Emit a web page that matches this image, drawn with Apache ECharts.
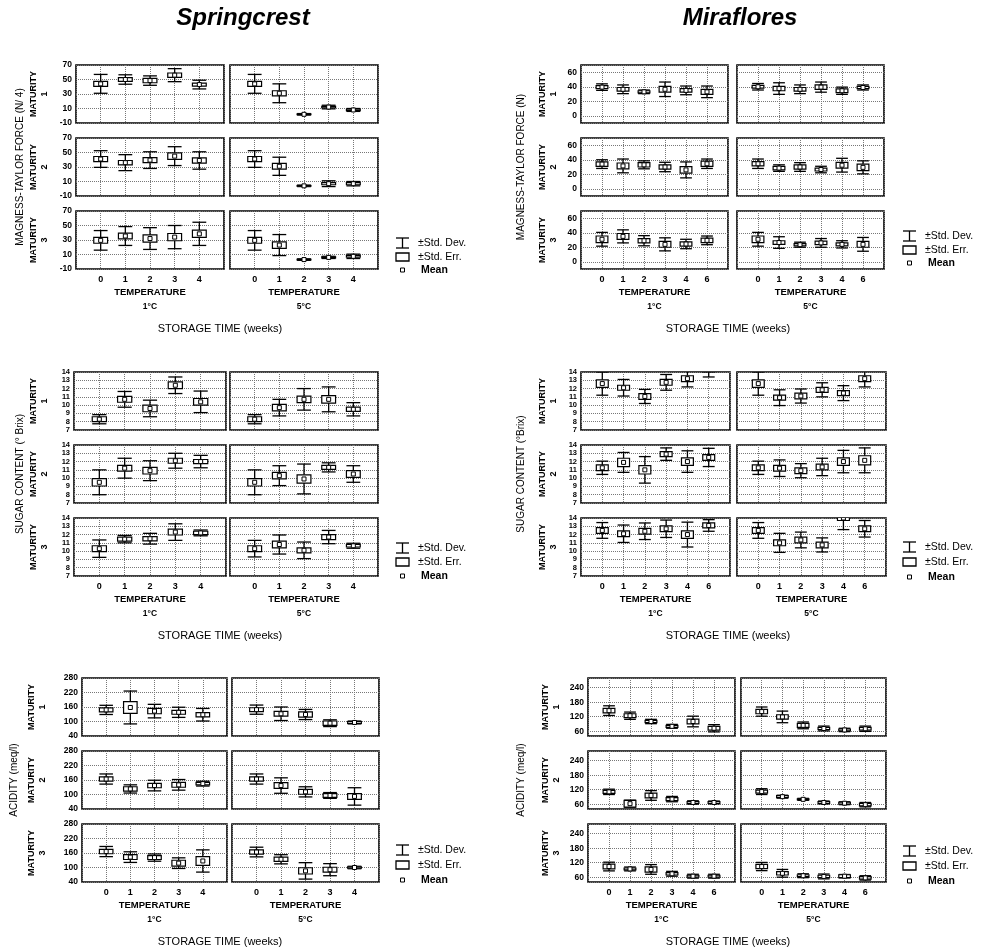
<!DOCTYPE html>
<html><head><meta charset="utf-8">
<script src="https://cdn.jsdelivr.net/npm/echarts@6/dist/echarts.min.js"></script>
<style>html,body{margin:0;padding:0;background:#fff}#c{width:992px;height:950px}</style>
</head><body><div id="c"></div>
<script>
// ---------------- DATA ----------------
// rows: [Maturity1 1°C, Maturity1 5°C, Maturity2 1°C, Maturity2 5°C, Maturity3 1°C, Maturity3 5°C]
const scWeeks = ['0','1','2','3','4'];
const mfWeeks = ['0','1','2','3','4','6'];
const temps = ['1°C','5°C'];
const maturities = ['1','2','3'];

// Springcrest – firmness (N)
const scFirmMean = [[44,50,48.5,56,43],[44,31,2,12,8],[41,36,39.5,45,39],[41,31,4,7,7],[29.5,35.5,32,34,38.5],[29.5,23,3,6,7.5]];
const scFirmSd   = [[13,6.5,6.5,9,6],[13,13,1,2.5,2],[11.5,11,11.5,13,12],[11.5,12.5,1,4,3],[13.5,13,15,16,16],[13.5,14.5,1,1.5,3]];
const scFirmSe   = [[3.5,2.5,3,3,2],[3.5,3.5,0.5,1,1],[3.5,3,3.5,4.5,3.7],[3.5,4,0.5,1.5,1.5],[4,4,5,5,5],[4,4.5,0.5,0.8,1.2]];
// Miraflores – firmness (N)
const mfFirmMean = [[39.5,36.5,33,36.5,35,33],[40,37.5,36.5,39.5,34.5,39],[34,31.5,33,30,26,34.5],[34.5,28.5,30,26.5,32.5,29.5],[31,35,29,24,24.5,29.5],[31,26.5,23.5,26,24,24]];
const mfFirmSd   = [[4.5,6,2.5,10,6,8],[4.5,8,6,7,5,3.5],[6,9.5,5.5,6.5,11,6.5],[6.5,4.5,6,4.5,9.5,9],[9.5,9,7,9,6.5,6],[9.5,8,3.5,6,5,9.5]];
const mfFirmSe   = [[2,2.5,1.5,4,2.5,3.5],[2,3,2.5,3,2.5,1.5],[3,4,3,3,4.5,3.5],[3,2.5,3,2,4,4.5],[4.5,4,3,4,3,3],[4.5,2.5,1.5,2.5,2,4]];
// Springcrest – sugar content (°Brix)
const scSugarMean = [[8.3,10.7,9.6,12.4,10.4],[8.3,9.7,10.7,10.7,9.5],[9.5,11.2,10.9,12.1,12],[9.5,10.3,9.9,11.3,10.5],[10.3,11.45,11.5,12.3,12.2],[10.3,10.8,10.1,11.7,10.65]];
const scSugarSd   = [[0.55,0.95,1,1,1.3],[0.55,1,1.3,1.5,0.8],[1.5,1.2,1.2,0.9,0.75],[1.5,1.2,1.8,0.55,1],[1.05,0.45,0.65,1,0.35],[1,1.15,1,0.8,0.3]];
const scSugarSe   = [[0.3,0.35,0.4,0.4,0.4],[0.3,0.4,0.4,0.45,0.25],[0.45,0.35,0.4,0.3,0.25],[0.45,0.4,0.5,0.25,0.4],[0.35,0.25,0.25,0.35,0.2],[0.35,0.4,0.3,0.3,0.15]];
// Miraflores – sugar content (°Brix)
const mfSugarMean = [[12.6,12.1,11.05,12.75,13.2,14.3],[12.6,10.9,11.1,11.85,11.45,13.2],[11.25,11.9,11,12.9,12,12.5],[11.25,11.2,10.9,11.35,12,12.15],[12.5,12.1,12.4,12.7,12,13.1],[12.5,11,11.35,10.75,14,12.7]];
const mfSugarSd   = [[1.4,1,0.85,0.95,1,0.9],[1.4,0.95,0.85,0.85,0.9,1],[0.8,1.2,1.6,0.75,1.3,1.1],[0.8,1,0.85,1.05,1.35,1.5],[0.95,1.05,1,1.05,1.5,0.7],[0.95,1.15,0.95,0.85,1.4,1]];
const mfSugarSe   = [[0.45,0.3,0.35,0.35,0.35,0.3],[0.45,0.3,0.35,0.3,0.3,0.35],[0.35,0.5,0.5,0.3,0.45,0.35],[0.35,0.35,0.35,0.35,0.45,0.55],[0.35,0.35,0.35,0.35,0.45,0.3],[0.35,0.35,0.35,0.35,0.3,0.35]];
// Springcrest – acidity (meq/l)
const scAcidMean = [[148,158,143,138,128],[149,132,129,93,96],[164,123,137,140,145],[164,137,111,96,92],[166,143,141,118,127],[164,134,86,91,100]];
const scAcidSd   = [[19,68,28,21,26],[19,28,21,14,6],[21,17,22,22,10],[21,32,21,12,36],[21,22,15,22,46],[20,19,34,25,5]];
const scAcidSe   = [[8,24,11,8,9],[8,10,11,9,4],[9,9,9,10,5],[9,12,10,8,12],[9,10,8,12,18],[9,9,13,10,3]];
// Miraflores – acidity (meq/l)
const mfAcidMean = [[145,124,100,80,100,72],[141,119,84,71,65,70],[111,62,96,81,67,67],[112,91,80,67,64,58],[104,94,92,74,64,64],[104,76,66,63,64,57]];
const mfAcidSd   = [[20,15,9,8,22,15],[19,24,14,10,7,11],[11,14.5,20,11,7,6],[12,6,4,6,6,9],[18,8,20,10,8,8],[17,16,8,10,7,9]];
const mfAcidSe   = [[9,8,5,4,10,8],[9,9,8,5,4,6],[6,14,10,6,4,4],[6,4,2,4,4,5],[10,4,11,5,4,4],[9,7,4,5,6,5]];

// ---------------- LAYOUT ----------------
const FONT = '"Liberation Sans", Arial, sans-serif';
const PH = 58, PITCH = 73;
const blocks = [
  {mean:scFirmMean, sd:scFirmSd, se:scFirmSe, weeks:scWeeks, y:{min:-10,max:70,interval:20}, yFont:8.5, px:[[76,224],[230,378]], top:65,
   yTitle:'MAGNESS-TAYLOR FORCE (N/ 4)', yTitleX:20, matX:39, legX:396, legY:[243,257,270], storX:220},
  {mean:mfFirmMean, sd:mfFirmSd, se:mfFirmSe, weeks:mfWeeks, y:{min:-10,max:70,nice:20}, yFont:8.5, px:[[581,728],[737,884]], top:65,
   yTitle:'MAGNESS-TAYLOR FORCE (N)', yTitleX:521, matX:548, legX:903, legY:[236,250,263], storX:728},
  {mean:scSugarMean, sd:scSugarSd, se:scSugarSe, weeks:scWeeks, y:{min:7,max:14,interval:1}, yFont:7.5, px:[[74,226],[230,378]], top:372,
   yTitle:'SUGAR CONTENT (° Brix)', yTitleX:20, matX:39, legX:396, legY:[548,562,576], storX:220},
  {mean:mfSugarMean, sd:mfSugarSd, se:mfSugarSe, weeks:mfWeeks, y:{min:7,max:14,interval:1}, yFont:7.5, px:[[581,730],[737,886]], top:372,
   yTitle:'SUGAR CONTENT (°Brix)', yTitleX:521, matX:548, legX:903, legY:[547,562,577], storX:728},
  {mean:scAcidMean, sd:scAcidSd, se:scAcidSe, weeks:scWeeks, y:{min:40,max:280,interval:60}, yFont:8.5, px:[[82,227],[232,379]], top:678,
   yTitle:'ACIDITY (meq/l)', yTitleX:14, matX:37, legX:396, legY:[850,865,880], storX:220},
  {mean:mfAcidMean, sd:mfAcidSd, se:mfAcidSe, weeks:mfWeeks, y:{min:40,max:280,nice:60}, yFont:8.5, px:[[588,735],[741,886]], top:678,
   yTitle:'ACIDITY (meq/l)', yTitleX:521, matX:551, legX:903, legY:[851,866,881], storX:728}
];

// ---------------- BUILD ----------------
function renderBox(params, api) {
  const x = api.value(0), m = api.value(1), se = api.value(2), sd = api.value(3);
  const w = api.size([1, 0])[0] * 0.56;
  const c = api.coord([x, m]);
  const sdHi = api.coord([x, m + sd])[1], sdLo = api.coord([x, m - sd])[1];
  const seHi = api.coord([x, m + se])[1], seLo = api.coord([x, m - se])[1];
  const ls = {stroke:'#000', lineWidth:1.3};
  return {type:'group', children:[
    {type:'line', shape:{x1:c[0], y1:sdHi, x2:c[0], y2:seHi}, style:ls},
    {type:'line', shape:{x1:c[0], y1:seLo, x2:c[0], y2:sdLo}, style:ls},
    {type:'line', shape:{x1:c[0]-w/2, y1:sdHi, x2:c[0]+w/2, y2:sdHi}, style:ls},
    {type:'line', shape:{x1:c[0]-w/2, y1:sdLo, x2:c[0]+w/2, y2:sdLo}, style:ls},
    {type:'rect', shape:{x:c[0]-w/2, y:seHi, width:w, height:seLo-seHi}, style:{stroke:'#000', fill:'#fff', lineWidth:1.2}},
    {type:'rect', shape:{x:c[0]-2, y:c[1]-2, width:4, height:4}, style:{stroke:'#000', fill:'#fff', lineWidth:1}}
  ]};
}

const grids = [], xAxes = [], yAxes = [], series = [], graphics = [];
const txt = (x, y, text, o) => graphics.push(Object.assign({type:'text', x, y,
  style:Object.assign({text, fill:'#000', font:'9px ' + FONT, textAlign:'center', textVerticalAlign:'middle'}, (o && o.style) || {})},
  o && o.rotation != null ? {rotation:o.rotation} : {}));

blocks.forEach(b => {
  for (let r = 0; r < 3; r++) {
    for (let t = 0; t < 2; t++) {
      const gi = grids.length;
      const top = b.top + r * PITCH;
      grids.push({left:b.px[t][0], top, width:b.px[t][1]-b.px[t][0], height:PH,
        show:true, borderColor:'#000', borderWidth:1.6, backgroundColor:'#fff'});
      xAxes.push({gridIndex:gi, type:'value', min:-1, max:b.weeks === mfWeeks ? 6 : 5, interval:1,
        axisLine:{show:false}, axisTick:{show:false},
        splitLine:{show:true, lineStyle:{type:'dotted', color:'#777', width:1}},
        axisLabel:{show:r === 2, margin:6, color:'#000', fontSize:9, fontWeight:'bold', fontFamily:FONT,
          formatter:v => (b.weeks[v] !== undefined ? b.weeks[v] : '')}});
      const ya = {gridIndex:gi, type:'value', min:b.y.min, max:b.y.max,
        axisLine:{show:false}, axisTick:{show:false},
        splitLine:{show:true, lineStyle:{type:'dotted', color:'#777', width:1}},
        axisLabel:{show:t === 0, margin:4, color:'#000', fontSize:b.yFont, fontWeight:'bold', fontFamily:FONT,
          showMinLabel:true, showMaxLabel:true, hideOverlap:false, lineHeight:b.yFont - 1}};
      if (b.y.interval) { ya.interval = b.y.interval; }
      else {
        ya.minInterval = b.y.nice; ya.maxInterval = b.y.nice; ya.splitNumber = 4;
        const n = b.y.nice, lo = b.y.min, hi = b.y.max;
        ya.axisLabel.formatter = v => (v % n === 0 && v > lo && v < hi) ? String(v) : '';
      }
      yAxes.push(ya);
      const k = r * 2 + t;
      const data = b.mean[k].map((m, i) => [i, m, b.se[k][i], b.sd[k][i]]);
      series.push({type:'custom', xAxisIndex:gi, yAxisIndex:gi, clip:true, renderItem:renderBox, data,
        silent:true, animation:false});
    }
    // maturity label
    const cy = b.top + r * PITCH + PH / 2;
    graphics.push({type:'text', x:b.matX, y:cy, rotation:Math.PI/2,
      style:{text:'MATURITY\n' + maturities[r], fill:'#000', font:'bold 9px ' + FONT,
        textAlign:'center', textVerticalAlign:'middle', lineHeight:11}});
  }
  // bottom texts
  const bottom = b.top + 2 * PITCH + PH;
  for (let t = 0; t < 2; t++) {
    const cx = (b.px[t][0] + b.px[t][1]) / 2;
    txt(cx, bottom + 23, 'TEMPERATURE', {style:{font:'bold 9.5px ' + FONT}});
    txt(cx, bottom + 38, temps[t], {style:{font:'bold 8.5px ' + FONT}});
  }
  txt(b.storX, bottom + 60, 'STORAGE TIME (weeks)', {style:{font:'11px ' + FONT}});
  // y title
  const midY = b.top + PITCH + PH / 2;
  txt(b.yTitleX, midY, b.yTitle, {rotation:Math.PI/2, style:{font:'10px ' + FONT}});
  // legend
  const lx = b.legX, sw = 13;
  const [y1, y2, y3] = b.legY;
  graphics.push({type:'group', children:[
    {type:'line', shape:{x1:lx, y1:y1-5, x2:lx+sw, y2:y1-5}, style:{stroke:'#000', lineWidth:1.3}},
    {type:'line', shape:{x1:lx, y1:y1+5, x2:lx+sw, y2:y1+5}, style:{stroke:'#000', lineWidth:1.3}},
    {type:'line', shape:{x1:lx+sw/2, y1:y1-5, x2:lx+sw/2, y2:y1+5}, style:{stroke:'#000', lineWidth:1.3}},
    {type:'rect', shape:{x:lx, y:y2-4, width:sw, height:8}, style:{stroke:'#000', fill:'#fff', lineWidth:1.3}},
    {type:'rect', shape:{x:lx+sw/2-2, y:y3-2, width:4, height:4}, style:{stroke:'#000', fill:'#fff', lineWidth:1}}
  ]});
  const tx = lx + sw + 9;
  txt(tx, y1, '±Std. Dev.', {style:{textAlign:'left', font:'10.5px ' + FONT}});
  txt(tx, y2, '±Std. Err.', {style:{textAlign:'left', font:'10.5px ' + FONT}});
  txt(tx + 3, y3, 'Mean', {style:{textAlign:'left', font:'bold 10.5px ' + FONT}});
});

txt(243, 18, 'Springcrest', {style:{font:'italic bold 24px ' + FONT}});
txt(740, 18, 'Miraflores', {style:{font:'italic bold 24px ' + FONT}});

const chart = echarts.init(document.getElementById('c'), null, {renderer:'canvas'});
chart.setOption({animation:false, backgroundColor:'#fff', grid:grids, xAxis:xAxes, yAxis:yAxes, series, graphic:graphics});
</script></body></html>
